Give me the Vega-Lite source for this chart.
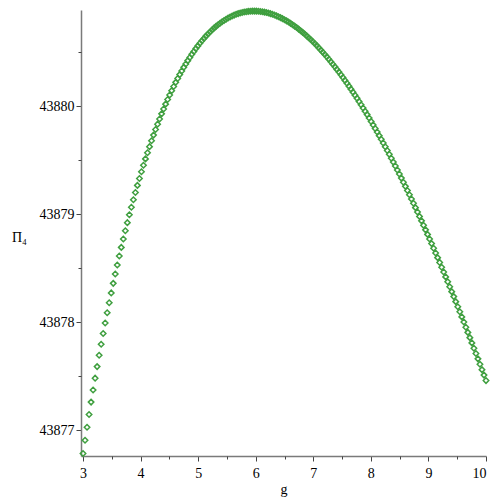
{
"$schema": "https://vega.github.io/schema/vega-lite/v6.json",
"width": 405, "height": 446,
"autosize": {"type": "none"},
"padding": {"left": 81, "top": 10, "right": 14, "bottom": 44},
"background": "white",
"config": {"view": {"stroke": null}, "font": "Liberation Serif"},
"data": {"values": [
{"g":3.000,"P":43876.7826},{"g":3.035,"P":43876.9059},{"g":3.070,"P":43877.0263},{"g":3.105,"P":43877.1440},{"g":3.140,"P":43877.2589},
{"g":3.175,"P":43877.3711},{"g":3.210,"P":43877.4807},{"g":3.245,"P":43877.5878},{"g":3.280,"P":43877.6924},{"g":3.315,"P":43877.7945},
{"g":3.350,"P":43877.8943},{"g":3.385,"P":43877.9916},{"g":3.420,"P":43878.0867},{"g":3.455,"P":43878.1795},{"g":3.490,"P":43878.2701},
{"g":3.525,"P":43878.3586},{"g":3.560,"P":43878.4449},{"g":3.595,"P":43878.5292},{"g":3.630,"P":43878.6114},{"g":3.665,"P":43878.6917},
{"g":3.700,"P":43878.7699},{"g":3.735,"P":43878.8463},{"g":3.770,"P":43878.9207},{"g":3.805,"P":43878.9933},{"g":3.840,"P":43879.0641},
{"g":3.875,"P":43879.1331},{"g":3.910,"P":43879.2004},{"g":3.945,"P":43879.2659},{"g":3.980,"P":43879.3297},{"g":4.015,"P":43879.3919},
{"g":4.050,"P":43879.4524},{"g":4.085,"P":43879.5114},{"g":4.120,"P":43879.5687},{"g":4.155,"P":43879.6245},{"g":4.190,"P":43879.6788},
{"g":4.225,"P":43879.7316},{"g":4.260,"P":43879.7829},{"g":4.295,"P":43879.8328},{"g":4.330,"P":43879.8812},{"g":4.365,"P":43879.9282},
{"g":4.400,"P":43879.9739},{"g":4.435,"P":43880.0182},{"g":4.470,"P":43880.0611},{"g":4.505,"P":43880.1027},{"g":4.540,"P":43880.1431},
{"g":4.575,"P":43880.1821},{"g":4.610,"P":43880.2199},{"g":4.645,"P":43880.2564},{"g":4.680,"P":43880.2918},{"g":4.715,"P":43880.3259},
{"g":4.750,"P":43880.3588},{"g":4.785,"P":43880.3906},{"g":4.820,"P":43880.4212},{"g":4.855,"P":43880.4507},{"g":4.890,"P":43880.4791},
{"g":4.925,"P":43880.5064},{"g":4.960,"P":43880.5326},{"g":4.995,"P":43880.5577},{"g":5.030,"P":43880.5818},{"g":5.065,"P":43880.6048},
{"g":5.100,"P":43880.6269},{"g":5.135,"P":43880.6479},{"g":5.170,"P":43880.6679},{"g":5.205,"P":43880.6869},{"g":5.240,"P":43880.7049},
{"g":5.275,"P":43880.7220},{"g":5.310,"P":43880.7381},{"g":5.345,"P":43880.7533},{"g":5.380,"P":43880.7676},{"g":5.415,"P":43880.7810},
{"g":5.450,"P":43880.7934},{"g":5.485,"P":43880.8050},{"g":5.520,"P":43880.8157},{"g":5.555,"P":43880.8256},{"g":5.590,"P":43880.8346},
{"g":5.625,"P":43880.8427},{"g":5.660,"P":43880.8500},{"g":5.695,"P":43880.8565},{"g":5.730,"P":43880.8622},{"g":5.765,"P":43880.8671},
{"g":5.800,"P":43880.8711},{"g":5.835,"P":43880.8744},{"g":5.870,"P":43880.8770},{"g":5.905,"P":43880.8787},{"g":5.940,"P":43880.8797},
{"g":5.975,"P":43880.8800},{"g":6.010,"P":43880.8795},{"g":6.045,"P":43880.8783},{"g":6.080,"P":43880.8764},{"g":6.115,"P":43880.8738},
{"g":6.150,"P":43880.8704},{"g":6.185,"P":43880.8663},{"g":6.220,"P":43880.8616},{"g":6.255,"P":43880.8562},{"g":6.290,"P":43880.8501},
{"g":6.325,"P":43880.8434},{"g":6.360,"P":43880.8360},{"g":6.395,"P":43880.8280},{"g":6.430,"P":43880.8193},{"g":6.465,"P":43880.8099},
{"g":6.500,"P":43880.8000},{"g":6.535,"P":43880.7894},{"g":6.570,"P":43880.7782},{"g":6.605,"P":43880.7664},{"g":6.640,"P":43880.7540},
{"g":6.675,"P":43880.7410},{"g":6.710,"P":43880.7274},{"g":6.745,"P":43880.7132},{"g":6.780,"P":43880.6984},{"g":6.815,"P":43880.6831},
{"g":6.850,"P":43880.6672},{"g":6.885,"P":43880.6508},{"g":6.920,"P":43880.6337},{"g":6.955,"P":43880.6162},{"g":6.990,"P":43880.5981},
{"g":7.025,"P":43880.5794},{"g":7.060,"P":43880.5602},{"g":7.095,"P":43880.5404},{"g":7.130,"P":43880.5202},{"g":7.165,"P":43880.4995},
{"g":7.200,"P":43880.4782},{"g":7.235,"P":43880.4564},{"g":7.270,"P":43880.4341},{"g":7.305,"P":43880.4113},{"g":7.340,"P":43880.3881},
{"g":7.375,"P":43880.3643},{"g":7.410,"P":43880.3401},{"g":7.445,"P":43880.3153},{"g":7.480,"P":43880.2901},{"g":7.515,"P":43880.2645},
{"g":7.550,"P":43880.2383},{"g":7.585,"P":43880.2117},{"g":7.620,"P":43880.1847},{"g":7.655,"P":43880.1572},{"g":7.690,"P":43880.1292},
{"g":7.725,"P":43880.1008},{"g":7.760,"P":43880.0720},{"g":7.795,"P":43880.0427},{"g":7.830,"P":43880.0130},{"g":7.865,"P":43879.9828},
{"g":7.900,"P":43879.9522},{"g":7.935,"P":43879.9212},{"g":7.970,"P":43879.8898},{"g":8.005,"P":43879.8580},{"g":8.040,"P":43879.8258},
{"g":8.075,"P":43879.7931},{"g":8.110,"P":43879.7601},{"g":8.145,"P":43879.7266},{"g":8.180,"P":43879.6928},{"g":8.215,"P":43879.6586},
{"g":8.250,"P":43879.6239},{"g":8.285,"P":43879.5889},{"g":8.320,"P":43879.5535},{"g":8.355,"P":43879.5177},{"g":8.390,"P":43879.4816},
{"g":8.425,"P":43879.4450},{"g":8.460,"P":43879.4081},{"g":8.495,"P":43879.3709},{"g":8.530,"P":43879.3332},{"g":8.565,"P":43879.2952},
{"g":8.600,"P":43879.2570},{"g":8.635,"P":43879.2182},{"g":8.670,"P":43879.1792},{"g":8.705,"P":43879.1398},{"g":8.740,"P":43879.1000},
{"g":8.775,"P":43879.0599},{"g":8.810,"P":43879.0194},{"g":8.845,"P":43878.9786},{"g":8.880,"P":43878.9375},{"g":8.915,"P":43878.8960},
{"g":8.950,"P":43878.8542},{"g":8.985,"P":43878.8121},{"g":9.020,"P":43878.7697},{"g":9.055,"P":43878.7269},{"g":9.090,"P":43878.6838},
{"g":9.125,"P":43878.6404},{"g":9.160,"P":43878.5967},{"g":9.195,"P":43878.5526},{"g":9.230,"P":43878.5083},{"g":9.265,"P":43878.4636},
{"g":9.300,"P":43878.4187},{"g":9.335,"P":43878.3735},{"g":9.370,"P":43878.3279},{"g":9.405,"P":43878.2820},{"g":9.440,"P":43878.2359},
{"g":9.475,"P":43878.1894},{"g":9.510,"P":43878.1426},{"g":9.545,"P":43878.0956},{"g":9.580,"P":43878.0483},{"g":9.615,"P":43878.0006},
{"g":9.650,"P":43877.9527},{"g":9.685,"P":43877.9045},{"g":9.720,"P":43877.8561},{"g":9.755,"P":43877.8073},{"g":9.790,"P":43877.7583},
{"g":9.825,"P":43877.7090},{"g":9.860,"P":43877.6594},{"g":9.895,"P":43877.6096},{"g":9.930,"P":43877.5595},{"g":9.965,"P":43877.5091},
{"g":10.000,"P":43877.4584}
]},
"layer": [
{
"mark": {"type": "point", "shape": "diamond", "filled": false, "size": 30, "strokeWidth": 1.5, "color": "#3f9f3f", "opacity": 1},
"encoding": {
"x": {"field": "g", "type": "quantitative",
 "scale": {"domain": [2.965, 10], "nice": false, "zero": false},
 "axis": {"orient": "bottom", "values": [3,4,5,6,7,8,9,10], "format": "d", "grid": false,
  "domainColor": "#7a7a7a", "domainWidth": 1.5, "tickColor": "#444444", "tickSize": 5, "tickWidth": 1,
  "labelFont": "Liberation Serif", "labelFontSize": 14, "labelColor": "#000000", "labelPadding": 5,
  "title": "g", "titleFont": "Liberation Serif", "titleFontSize": 14, "titleFontWeight": "normal", "titleColor": "#000000", "titlePadding": 2}},
"y": {"field": "P", "type": "quantitative",
 "scale": {"domain": [43876.76, 43880.89], "nice": false, "zero": false},
 "axis": {"orient": "left", "values": [43877,43878,43879,43880], "format": "d", "grid": false,
  "domainColor": "#7a7a7a", "domainWidth": 1.5, "tickColor": "#444444", "tickSize": 5, "tickWidth": 1,
  "labelFont": "Liberation Serif", "labelFontSize": 14, "labelColor": "#000000", "labelPadding": 2,
  "title": "Π₄", "titleFont": "Liberation Serif", "titleFontSize": 14, "titleFontWeight": "normal", "titleColor": "#000000",
  "titleAngle": 0, "titleX": -62, "titleY": 227, "titleAlign": "center", "titleBaseline": "middle"}}
}
},
{
"mark": {"type": "point", "opacity": 0},
"encoding": {
"x": {"field": "g", "type": "quantitative",
 "axis": {"orient": "bottom", "values": [3.5,4.5,5.5,6.5,7.5,8.5,9.5], "labels": false, "domain": false, "grid": false,
  "tickColor": "#444444", "tickSize": 3, "tickWidth": 1, "title": null}},
"y": {"field": "P", "type": "quantitative",
 "axis": {"orient": "left", "values": [43877.5,43878.5,43879.5,43880.5], "labels": false, "domain": false, "grid": false,
  "tickColor": "#444444", "tickSize": 3, "tickWidth": 1, "title": null}}
}
}
],
"resolve": {"axis": {"x": "independent", "y": "independent"}}
}
